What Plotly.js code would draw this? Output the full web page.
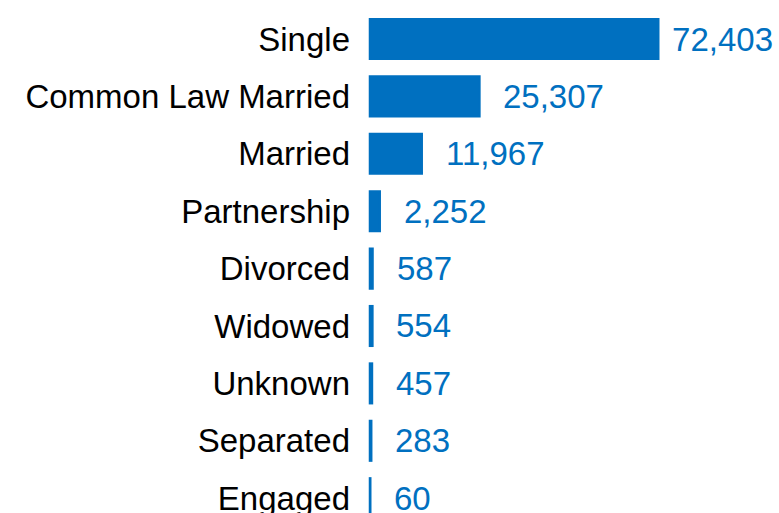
<!DOCTYPE html>
<html>
<head>
<meta charset="utf-8">
<script src="https://cdn.plot.ly/plotly-3.0.1.min.js"></script>
<style>html,body{margin:0;padding:0;background:#fff;}#chart{width:779px;height:513px;}</style>
</head>
<body>
<div id="chart"></div>
<script>
const categories = ["Single","Common Law Married","Married","Partnership","Divorced","Widowed","Unknown","Separated","Engaged"];
const counts = [72403, 25307, 11967, 2252, 587, 554, 457, 283, 60];
const labels = ["72,403","25,307","11,967","2,252","587","554","457","283","60"];

const BLUE = "#0070C0";
const FONT = "Liberation Sans, Arial, sans-serif";

const trace = {
  type: "bar",
  orientation: "h",
  x: counts,
  y: categories,
  width: 0.69,
  marker: {color: BLUE, line: {color: BLUE, width: 2.5}},
  hoverinfo: "none"
};

const annotations = counts.map((v, i) => {
  if (i === 0) {
    return {
      x: v, y: categories[i], xref: "x", yref: "y",
      xanchor: "left", yanchor: "middle", xshift: -24,
      text: labels[i], showarrow: false,
      font: {family: FONT, size: 33, color: BLUE},
      bgcolor: "#ffffff", width: 113, height: 42, align: "right", borderpad: 0
    };
  }
  return {
    x: v, y: categories[i], xref: "x", yref: "y",
    xanchor: "left", yanchor: "middle", xshift: 22,
    text: labels[i], showarrow: false,
    font: {family: FONT, size: 33, color: BLUE}
  };
});

const layout = {
  width: 779, height: 513,
  margin: {l: 368, r: 96, t: 10, b: 0, pad: 0},
  paper_bgcolor: "#ffffff", plot_bgcolor: "#ffffff",
  showlegend: false,
  xaxis: {range: [-460, 72403], showticklabels: false, showgrid: false, zeroline: false, showline: false, fixedrange: true},
  yaxis: {
    range: [8.258, -0.505], automargin: false,
    showgrid: false, zeroline: false, showline: false, ticks: "",
    ticklabelstandoff: 17,
    tickfont: {family: FONT, size: 33, color: "#000000"}
  },
  annotations: annotations
};

Plotly.newPlot("chart", [trace], layout, {displayModeBar: false, staticPlot: true});
</script>
</body>
</html>
